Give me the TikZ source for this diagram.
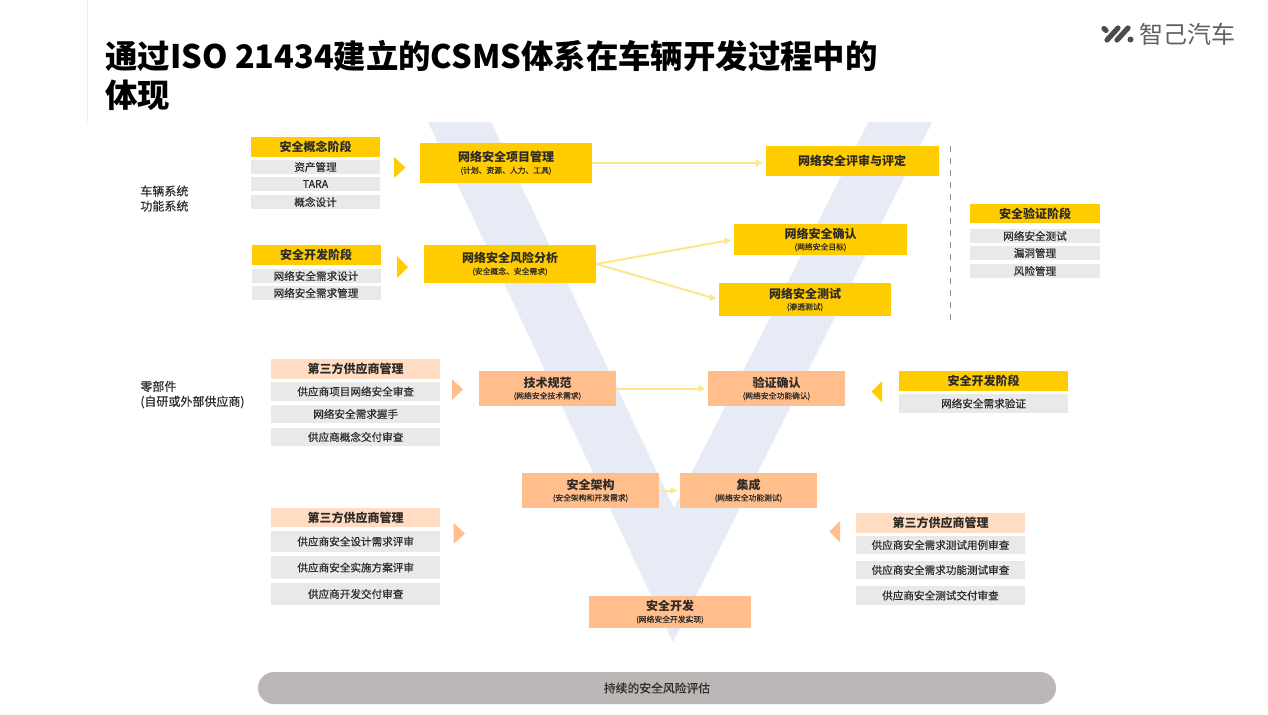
\documentclass[tikz,border=0pt]{standalone}
\usepackage{fontspec}
\setmainfont{Noto Sans CJK SC}
\newfontfamily\inkfont{Noto Sans CJK SC}[FakeBold=0.3]
\definecolor{gold}{HTML}{FFCC00}
\definecolor{peach}{HTML}{FFBE8C}
\definecolor{paleyellow}{HTML}{FFE68A}
\definecolor{palepeach}{HTML}{FFDCC2}
\definecolor{itemgray}{HTML}{E9E9EA}
\definecolor{vblue}{HTML}{E7EBF6}
\definecolor{pillgray}{HTML}{BAB7B6}
\definecolor{inktext}{HTML}{2E2A26}
\definecolor{edgepink}{HTML}{FBE6E0}
\tikzset{
  sized/.style 2 args={minimum width=#1*0.5pt, minimum height=#2*0.5pt, inner sep=0pt, text=inktext},
  headtext/.style={font=\fontsize{6}{7}\selectfont\bfseries},
  itemtext/.style={font=\fontsize{5.3}{6}\selectfont\inkfont},
  goldbox/.style={fill=gold, headtext},
  peachbox/.style={fill=peach, headtext},
  paleheadbox/.style={fill=palepeach, headtext},
  itembox/.style={fill=itemgray, itemtext},
  flowline/.style={draw=paleyellow, line width=1pt, -{Latex[length=3.5pt,width=3.8pt]}, shorten >=1pt},
  sidelabel/.style={font=\fontsize{6}{7.5}\selectfont\inkfont, text=inktext, inner sep=0pt, align=left},
  logomark/.style={black!70, line width=2.6pt, line cap=round},
}
\newcommand{\subline}[1]{\\[-1.2pt]{\fontsize{3.9}{4.5}\selectfont\mdseries\inkfont #1}}
\usetikzlibrary{arrows.meta}
\begin{document}
\begin{tikzpicture}[x=0.5pt,y=-0.5pt]
    \useasboundingbox (0,0) rectangle (1268,714);

    % Page background and V shape
    \fill[white] (0,0) rectangle (1268,714);
    \fill[vblue] (428,122) -- (491,122) -- (674,508) -- (868.5,122) -- (932,122) -- (673,642) -- cycle;
    \draw[edgepink, line width=0.7pt] (87.5,0) -- (87.5,122);

    % Title
    \node[anchor=north west, inner sep=0pt, align=left, font=\fontsize{16.2}{19.5}\selectfont\bfseries] (title) at (105,40)
        {通过ISO 21434建立的CSMS体系在车辆开发过程中的\\体现};

    % Logo
    \draw[logomark] (1104,28.5) -- (1106,30.5);
    \draw[logomark] (1107,40) -- (1118,28);
    \draw[logomark] (1117,40) -- (1128,28);
    \fill[black!70] (1130.5,39.5) circle (3);
    \node[anchor=west, inner sep=0pt, font=\fontsize{12}{12}\selectfont, text=black!62] (logo) at (1139,34) {智己汽车};

    % Side labels
    \node[sidelabel, anchor=west] (vehicle) at (140,198.5) {车辆系统\\功能系统};
    \node[sidelabel, anchor=west] (parts) at (140,394.5) {零部件\\(自研或外部供应商)};

    % Concept phase panel
    \node[goldbox, sized={129}{20}] (concepthead) at (315.5,146.5) {安全概念阶段};
    \node[itembox, sized={129}{14}] (asset) at (315.5,167) {资产管理};
    \node[itembox, sized={129}{14}] (tara) at (315.5,184) {TARA};
    \node[itembox, sized={129}{14}] (conceptdesign) at (315.5,202) {概念设计};
    \fill[gold] (394,157) -- (405.5,167.5) -- (394,178) -- cycle;

    % Development phase panel
    \node[goldbox, sized={129}{20}] (devhead) at (316,255) {安全开发阶段};
    \node[itembox, sized={129}{14}] (reqdesign) at (316,276) {网络安全需求设计};
    \node[itembox, sized={129}{14}] (reqmanage) at (316,293) {网络安全需求管理};
    \fill[gold] (397,256) -- (408,267) -- (397,278) -- cycle;

    % Validation phase panel
    \node[goldbox, sized={130}{19}] (validhead) at (1035,213.5) {安全验证阶段};
    \node[itembox, sized={130}{14}] (sectest) at (1035,236) {网络安全测试};
    \node[itembox, sized={130}{14}] (vuln) at (1035,253) {漏洞管理};
    \node[itembox, sized={130}{14}] (riskmanage) at (1035,271) {风险管理};
    \draw[black!45, line width=0.35pt, dashed] (950.5,146) -- (950.5,323);

    % Gold boxes on the V
    \node[goldbox, sized={172}{40}, align=center] (project) at (506,163) {网络安全项目管理\subline{(计划、资源、人力、工具)}};
    \node[goldbox, sized={172}{38}, align=center] (risk) at (510,264) {网络安全风险分析\subline{(安全概念、安全需求)}};
    \node[goldbox, sized={173}{30}] (review) at (852,161) {网络安全评审与评定};
    \node[goldbox, sized={173}{31}, align=center] (confirm) at (820.5,239.5) {网络安全确认\subline{(网络安全目标)}};
    \node[goldbox, sized={172}{33}, align=center] (pentest) at (805,299.5) {网络安全测试\subline{(渗透测试)}};

    % Supplier panel, upper left
    \node[paleheadbox, sized={168.5}{20}] (supplierone) at (355.7,368.7) {第三方供应商管理};
    \node[itembox, sized={168.5}{19}] (projectaudit) at (355.7,391.5) {供应商项目网络安全审查};
    \node[itembox, sized={168.5}{18}] (handshake) at (355.7,414) {网络安全需求握手};
    \node[itembox, sized={168.5}{18}] (conceptaudit) at (355.7,437) {供应商概念交付审查};
    \fill[peach] (452,379) -- (463,389.5) -- (452,400) -- cycle;

    % Supplier panel, lower left
    \node[paleheadbox, sized={168.5}{19}] (suppliertwo) at (355.7,517.5) {第三方供应商管理};
    \node[itembox, sized={168.5}{21}] (designaudit) at (355.7,541.5) {供应商安全设计需求评审};
    \node[itembox, sized={168.5}{23}] (planaudit) at (355.7,567.5) {供应商安全实施方案评审};
    \node[itembox, sized={168.5}{22}] (devaudit) at (355.7,594) {供应商开发交付审查};
    \fill[peach] (453.5,523) -- (465,533.5) -- (453.5,544) -- cycle;

    % Requirement check panel, right
    \node[goldbox, sized={169}{20}] (verifyhead) at (983.5,381) {安全开发阶段};
    \node[itembox, sized={169}{19}] (reqverify) at (983.5,403.5) {网络安全需求验证};
    \fill[gold] (882,381) -- (871.5,391.5) -- (882,402) -- cycle;

    % Supplier panel, right
    \node[paleheadbox, sized={169}{20}] (supplierthree) at (940.5,522.7) {第三方供应商管理};
    \node[itembox, sized={169}{18}] (caseaudit) at (940.5,545) {供应商安全需求测试用例审查};
    \node[itembox, sized={169}{18}] (funcaudit) at (940.5,570) {供应商安全需求功能测试审查};
    \node[itembox, sized={169}{19}] (testaudit) at (940.5,595.5) {供应商安全测试交付审查};
    \fill[peach] (840,521) -- (829.5,531.5) -- (840,542) -- cycle;

    % Peach boxes on the V
    \node[peachbox, sized={137}{35}, align=center] (techspec) at (547.5,388.5) {技术规范\subline{(网络安全技术需求)}};
    \node[peachbox, sized={137}{35}, align=center] (verify) at (776.5,388.5) {验证确认\subline{(网络安全功能确认)}};
    \node[peachbox, sized={137.5}{35}, align=center] (architecture) at (590.5,490.5) {安全架构\subline{(安全架构和开发需求)}};
    \node[peachbox, sized={137}{35}, align=center] (integration) at (748.5,490.5) {集成\subline{(网络安全功能测试)}};
    \node[peachbox, sized={162}{32}, align=center] (secdev) at (670,612) {安全开发\subline{(网络安全开发实现)}};

    % Connectors
    \draw[flowline] (project.east) -- (project.east -| review.west);
    \draw[flowline] (risk.east) -- (confirm.west);
    \draw[flowline] (risk.east) -- (pentest.west);
    \draw[flowline] (techspec) -- (verify);
    \draw[flowline] (architecture) -- (integration);

    % Risk assessment bar
    \node[fill=pillgray, rounded corners=8pt, sized={798}{32}, font=\fontsize{5.9}{7}\selectfont\inkfont] (assess) at (657,688) {持续的安全风险评估};
\end{tikzpicture}
\end{document}
